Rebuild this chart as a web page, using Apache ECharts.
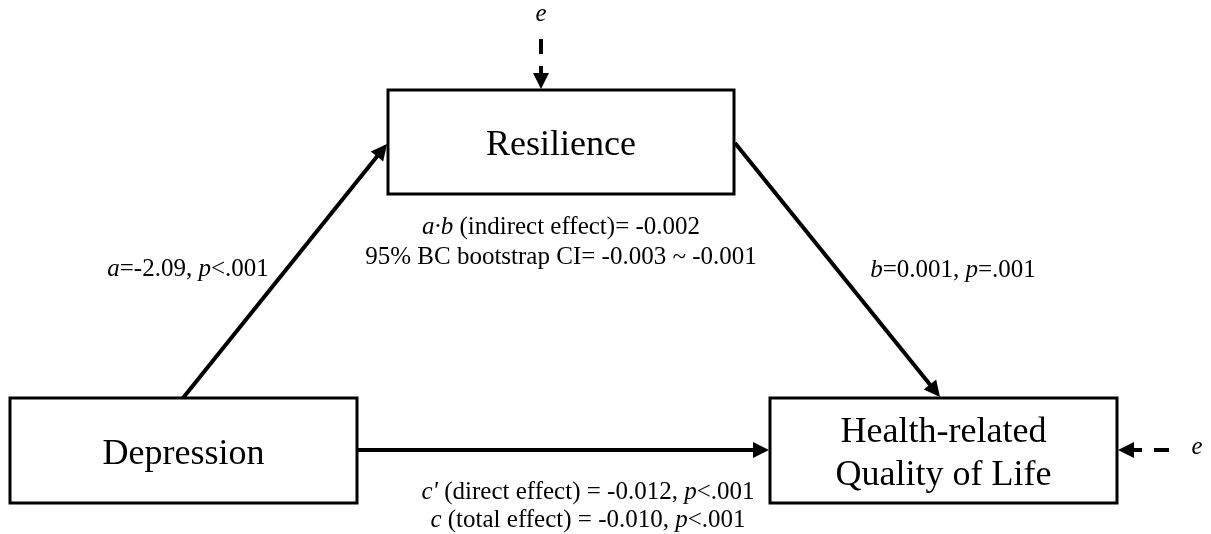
<!DOCTYPE html>
<html>
<head>
<meta charset="utf-8">
<script src="https://cdn.jsdelivr.net/npm/echarts@6/dist/echarts.min.js"></script>
<style>
  html, body { margin: 0; padding: 0; background: #fff; }
  #main { width: 1211px; height: 534px; }
</style>
</head>
<body>
<div id="main"></div>
<script>
// variables in the mediation model
var nodeNames = ['Resilience', 'Depression', 'Health-related\nQuality of Life'];
// path labels (rich text, {i|..} = italic)
var pathNames = ['a', 'b', "c'"];
var pathLabels = [
    '{i|a}=-2.09, {i|p}<.001',
    '{i|b}=0.001, {i|p}=.001',
    "{i|c'} (direct effect) = -0.012, {i|p}<.001"
];
var indirectLabels = [
    '{i|a·b} (indirect effect)= -0.002',
    '95% BC bootstrap CI= -0.003 ~ -0.001'
];
var totalLabel = '{i|c} (total effect) = -0.010, {i|p}<.001';
var errorLabel = 'e';

// layout, in pixel-like data units of a hidden 1211 x 534 grid
var boxes = [
    { cx: 561, cy: 142, w: 346, h: 104 },
    { cx: 183.5, cy: 450.5, w: 347, h: 105 },
    { cx: 943.5, cy: 450.5, w: 347, h: 105 }
];
var arrows = [
    { from: [183, 398], to: [387, 144], dashed: false },
    { from: [735, 143], to: [940, 397], dashed: false },
    { from: [357, 450], to: [769, 450], dashed: false },
    { from: [541, 39], to: [541, 89], dashed: true },
    { from: [1169, 450], to: [1118, 450], dashed: true }
];
var texts = [
    { pos: [188, 269], text: pathLabels[0], size: 25 },
    { pos: [953, 270], text: pathLabels[1], size: 25 },
    { pos: [561, 227], text: indirectLabels[0], size: 25 },
    { pos: [561, 257], text: indirectLabels[1], size: 25 },
    { pos: [588, 492], text: pathLabels[2], size: 25 },
    { pos: [588, 520], text: totalLabel, size: 25 },
    { pos: [541, 14], text: '{i|' + errorLabel + '}', size: 25 },
    { pos: [1197, 447], text: '{i|' + errorLabel + '}', size: 25 }
];

var FONT = '"Liberation Serif", "Times New Roman", serif';
var HEAD = [15, 16]; // arrow head width, length
var chart = echarts.init(document.getElementById('main'));

// the triangle symbol is centred on the end point, so pull it back half a head
var shorten = function(a) {
    var dx = a.to[0] - a.from[0], dy = a.to[1] - a.from[1];
    var len = Math.sqrt(dx * dx + dy * dy), k = (HEAD[1] / 2) / len;
    return { coords: [a.from, [a.to[0] - dx * k, a.to[1] - dy * k]] };
};

var boxData = boxes.map(function(b, i) {
    return [b.cx, b.cy, b.w, b.h, nodeNames[i]];
});
var solidData = [], dashData = [];
arrows.forEach(function(a) {
    (a.dashed ? dashData : solidData).push(shorten(a));
});
var textData = texts.map(function(t) {
    return [t.pos[0], t.pos[1], t.text, t.size];
});

var option = {
    animation: false,
    backgroundColor: '#fff',
    grid: { left: 0, right: 0, top: 0, bottom: 0 },
    xAxis: { type: 'value', min: 0, max: 1211, show: false },
    yAxis: { type: 'value', min: 0, max: 534, inverse: true, show: false },
    series: [{
        type: 'custom',
        data: boxData,
        renderItem: function(params, api) {
            var cx = api.value(0), cy = api.value(1), w = api.value(2), h = api.value(3);
            var p1 = api.coord([cx - w / 2, cy - h / 2]);
            var p2 = api.coord([cx + w / 2, cy + h / 2]);
            var c = api.coord([cx, cy]);
            return {
                type: 'group',
                children: [{
                    type: 'rect',
                    shape: { x: p1[0], y: p1[1], width: p2[0] - p1[0], height: p2[1] - p1[1] },
                    style: { fill: '#fff', stroke: '#000', lineWidth: 3 }
                }, {
                    type: 'text',
                    x: c[0],
                    y: c[1] + 4,
                    style: {
                        text: boxData[params.dataIndex][4],
                        font: '36px ' + FONT,
                        fill: '#000',
                        align: 'center',
                        verticalAlign: 'middle',
                        lineHeight: 43
                    }
                }]
            };
        },
        z: 2
    }, {
        type: 'lines',
        coordinateSystem: 'cartesian2d',
        data: solidData,
        symbol: ['none', 'triangle'],
        symbolSize: HEAD,
        lineStyle: { color: '#000', width: 4, opacity: 1 },
        z: 3
    }, {
        type: 'lines',
        coordinateSystem: 'cartesian2d',
        data: dashData,
        symbol: ['none', 'triangle'],
        symbolSize: HEAD,
        lineStyle: { color: '#000', width: 4, opacity: 1, type: [15, 12] },
        z: 3
    }, {
        type: 'custom',
        data: textData,
        renderItem: function(params, api) {
            var p = api.coord([api.value(0), api.value(1)]);
            var size = textData[params.dataIndex][3];
            return {
                type: 'text',
                x: p[0],
                y: p[1],
                style: {
                    text: textData[params.dataIndex][2],
                    font: size + 'px ' + FONT,
                    fill: '#000',
                    align: 'center',
                    verticalAlign: 'middle',
                    rich: {
                        i: { fontStyle: 'italic', fontSize: size, fontFamily: FONT, fill: '#000' }
                    }
                }
            };
        },
        z: 4
    }]
};
chart.setOption(option);
</script>
</body>
</html>
